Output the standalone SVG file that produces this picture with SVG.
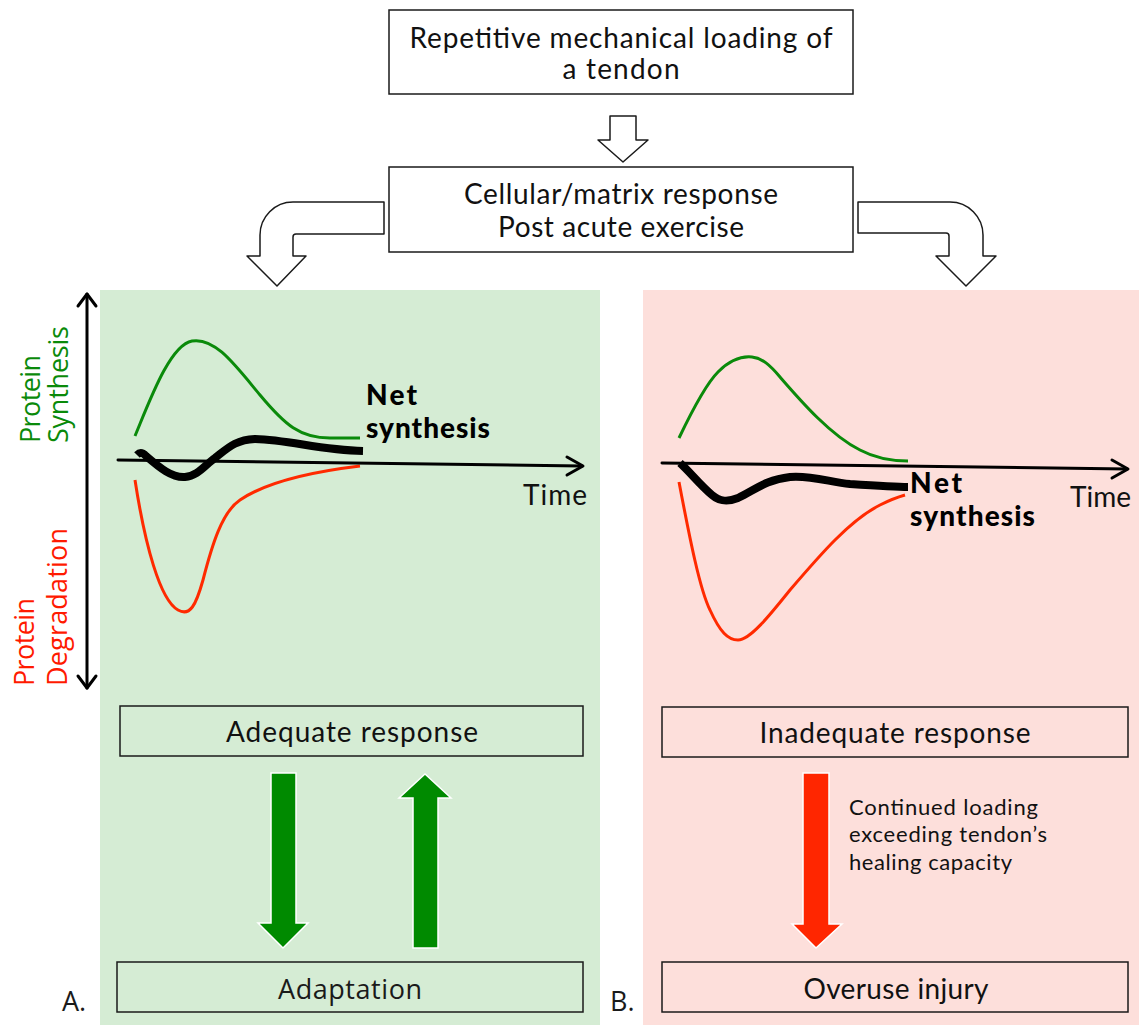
<svg xmlns="http://www.w3.org/2000/svg" width="1139" height="1025" viewBox="0 0 1139 1025">
<style>
.t{font-family:Lato,"Liberation Sans",sans-serif;font-size:28px;fill:#111}
.s{font-family:"Open Sans","Liberation Sans",sans-serif;font-size:27px;fill:#1a1a1a}
.box{fill:none;stroke:#1a1a1a;stroke-width:1.5}
.wbox{fill:#fff;stroke:#1a1a1a;stroke-width:1.5}
.blk{fill:#fff;stroke:#1a1a1a;stroke-width:1.5;stroke-linejoin:round}
.ax{fill:none;stroke:#000;stroke-width:3;stroke-linecap:round;stroke-linejoin:round}
.g{fill:none;stroke:#0a8a0a;stroke-width:3}
.r{fill:none;stroke:#ff2a00;stroke-width:3}
.k{fill:none;stroke:#000;stroke-width:8;stroke-linejoin:round}
.net{font-family:Lato,"Liberation Sans",sans-serif;font-size:28px;font-weight:900;fill:#000}
</style>
<rect id="panelA" x="100" y="290" width="500" height="735" fill="#d5ecd4"/>
<rect id="panelB" x="643" y="290" width="496" height="735" fill="#fddfdb"/>

<g id="top">
<rect class="wbox" x="389" y="10" width="464" height="84"/>
<text class="t" x="621" y="48" text-anchor="middle" textLength="423">Repetitive mechanical loading of</text>
<text class="t" x="621" y="79" text-anchor="middle" textLength="117">a tendon</text>
</g>
<g id="response">
<rect class="wbox" x="389" y="167" width="464" height="85"/>
<text class="t" x="621" y="204" text-anchor="middle" textLength="314">Cellular/matrix response</text>
<text class="t" x="621" y="237" text-anchor="middle" textLength="246">Post acute exercise</text>
</g>

<g id="connectors">
<path class="blk" d="M610,116 H636 V140 H648 L623,162 L598,140 H610 Z"/>
<path class="blk" d="M384,202 H293 A33,33 0 0 0 260,235 V256 H247 L277,286 L306,256 H293 V237 Q293,234 296,234 H384 Z"/>
<path class="blk" d="M858,202 H950 A33,33 0 0 1 983,235 V256 H996 L966,286 L936,256 H949 V236 Q949,233 946,233 H858 Z"/>
</g>

<g id="yaxis">
<line class="ax" x1="87" y1="294" x2="87" y2="688"/>
<polyline class="ax" points="78,306 87,294 96,306"/>
<polyline class="ax" points="78,676 87,688 96,676"/>
<text class="s" transform="translate(40,443) rotate(-90)" style="fill:#0a8a0a" textLength="88">Protein</text>
<text class="s" transform="translate(68,443) rotate(-90)" style="fill:#0a8a0a" textLength="117">Synthesis</text>
<text class="s" transform="translate(34,686) rotate(-90)" style="fill:#ff1a00" textLength="88">Protein</text>
<text class="s" transform="translate(67,686) rotate(-90)" style="fill:#ff1a00" textLength="158">Degradation</text>
</g>

<g id="chartA">
<path class="g" d="M135,436 C150,400 170,345 192,341 C215,337 235,365 260,395 C285,425 300,438 330,438 L360,438"/>
<path class="r" d="M135,480 C145,545 160,600 178,610 C190,617 196,605 203,580 C212,545 222,512 240,500 C265,483 310,472 360,466"/>
<line class="ax" x1="118" y1="460" x2="582" y2="466"/>
<polyline class="ax" points="567,457 583,466 567,475"/>
<path class="k" d="M137,455 C140,452 142,452 146,456 C160,468 172,478 185,477 C198,476 205,465 215,458 C228,448 235,440 255,439 C290,440 320,450 363,451"/>
<text class="net" x="366" y="405" textLength="51">Net</text>
<text class="net" x="366" y="438" textLength="124">synthesis</text>
<text class="t" x="523" y="505" textLength="64">Time</text>
</g>

<g id="chartB">
<path class="g" d="M679,438 C690,415 705,385 718,372 C730,360 742,356 752,357 C762,358 770,365 780,377 C800,400 830,435 860,450 C875,458 890,461 908,461"/>
<path class="r" d="M679,482 C690,540 700,590 710,610 C720,632 728,640 738,640 C750,640 770,615 790,590 C820,555 850,520 880,505 C890,500 898,497 905,495"/>
<line class="ax" x1="662" y1="463" x2="1127" y2="469"/>
<polyline class="ax" points="1112,460 1128,469 1112,478"/>
<path class="k" d="M680,463 C690,472 700,485 712,495 C720,502 728,502 738,498 C755,490 765,480 790,477 C810,475 830,482 850,484 C880,486 895,487 908,487"/>
<text class="net" x="910" y="493" textLength="52">Net</text>
<text class="net" x="910" y="526" textLength="125">synthesis</text>
<text class="t" x="1070" y="507" textLength="61">Time</text>
</g>

<g id="adequate">
<rect class="box" x="120" y="706" width="463" height="50"/>
<text class="t" x="352" y="742" text-anchor="middle" textLength="252">Adequate response</text>
</g>
<g id="inadequate">
<rect class="box" x="662" y="707" width="466" height="50"/>
<text class="t" x="895" y="743" text-anchor="middle" textLength="271">Inadequate response</text>
</g>
<g id="adaptation">
<rect class="box" x="117" y="962" width="466" height="50"/>
<text class="s" x="350" y="999" text-anchor="middle" textLength="144">Adaptation</text>
</g>
<g id="injury">
<rect class="box" x="662" y="962" width="466" height="50"/>
<text class="t" x="896" y="999" text-anchor="middle" textLength="185">Overuse injury</text>
</g>

<g id="bigarrows">
<path d="M271,773 H296 V923 H308 L283,948 L258,923 H271 Z" fill="#008a00" stroke="#fff" stroke-width="1.5"/>
<path d="M413,948 H438 V798 H451 L425,774 L399,798 H413 Z" fill="#008a00" stroke="#fff" stroke-width="1.5"/>
<path d="M803,773 H829 V924 H842 L816,948 L792,924 H803 Z" fill="#ff2600" stroke="#fff" stroke-width="1.5"/>
</g>
<g id="note" class="t" style="font-size:22px">
<text x="849" y="815" textLength="189">Continued loading</text>
<text x="849" y="842" textLength="198">exceeding tendon’s</text>
<text x="849" y="870" textLength="163">healing capacity</text>
</g>
<text class="s" x="62" y="1011">A.</text>
<text class="s" x="610" y="1011">B.</text>
</svg>
